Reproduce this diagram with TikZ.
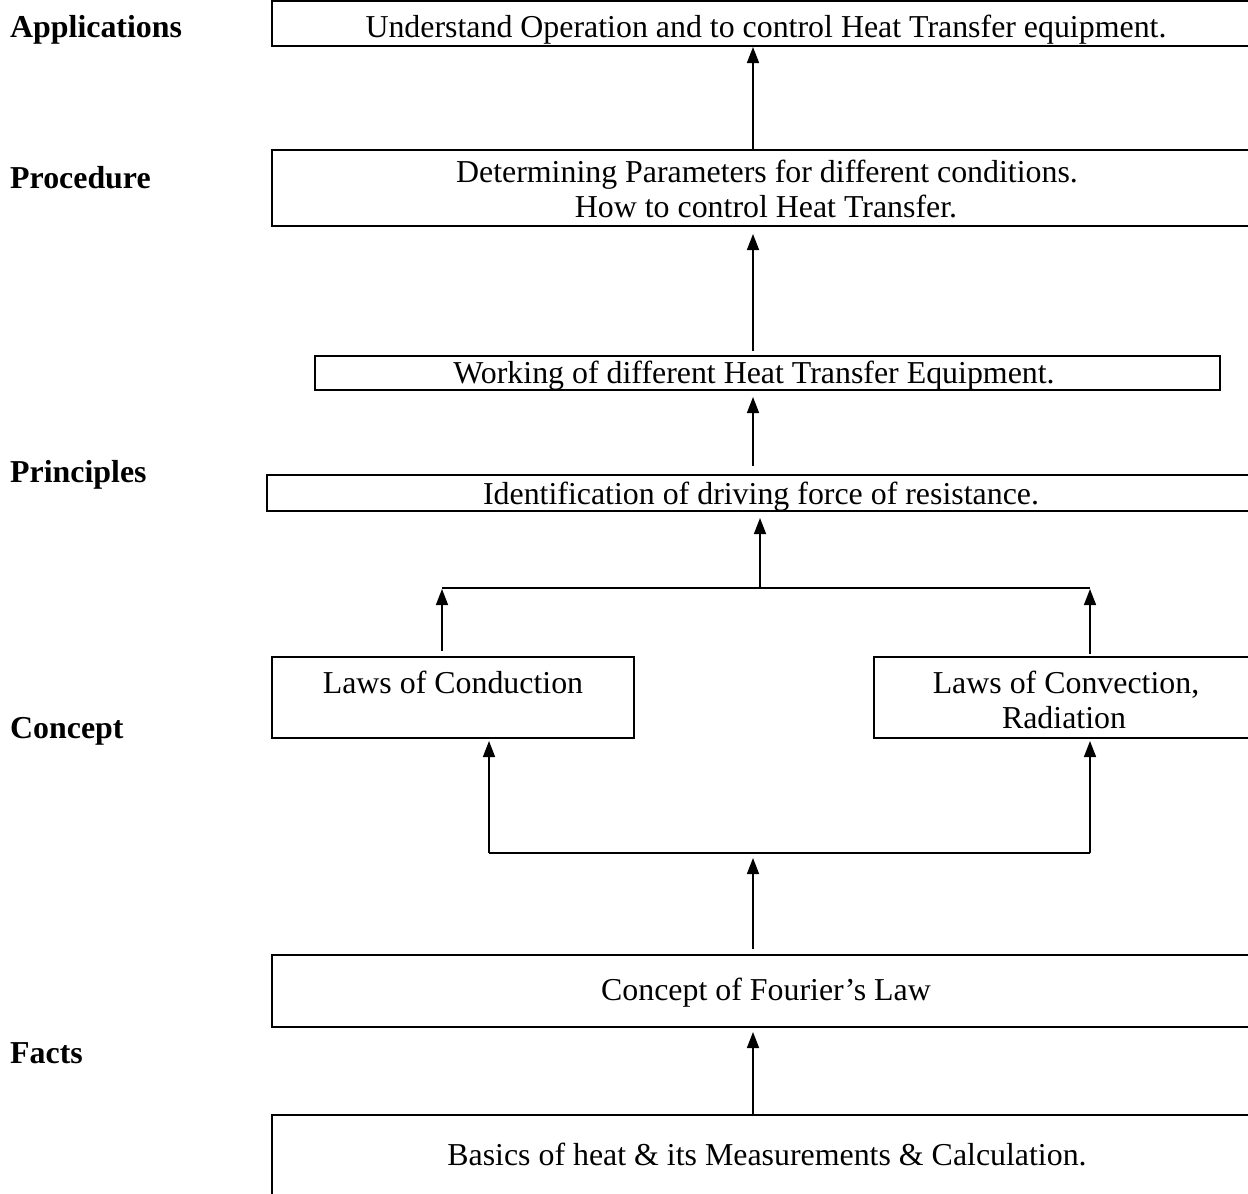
\documentclass[tikz,border=0pt]{standalone}
\usepackage{fontspec}
\setmainfont{Liberation Serif}
\usetikzlibrary{arrows.meta}
\begin{document}
\begin{tikzpicture}[x=1bp,y=-1bp,
 box/.style={draw, line width=2bp, rectangle, inner sep=0pt},
 txt/.style={font=\fontsize{32}{37}\selectfont, inner sep=0pt, anchor=base},
 lbl/.style={font=\fontsize{32}{37}\selectfont\bfseries, inner sep=0pt, anchor=base west},
 arr/.style={line width=1.6bp, -{Triangle[width=12bp,length=16bp]}},
 ln/.style={line width=2bp}]
\useasboundingbox (0,0) rectangle (1248,1194);
% level labels
\node[lbl] (lapp) at (10,37) {Applications};
\node[lbl] (lpro) at (10,188) {Procedure};
\node[lbl] (lpri) at (10,482) {Principles};
\node[lbl] (lcon) at (10,738) {Concept};
\node[lbl] (lfac) at (10,1063) {Facts};
% boxes
\node[box, minimum width=990bp, minimum height=45bp] (b1) at (767,23.5) {};
\node[box, minimum width=990bp, minimum height=76bp] (b2) at (767,188) {};
\node[box, minimum width=905bp, minimum height=34bp] (b3) at (767.5,373) {};
\node[box, minimum width=995bp, minimum height=36bp] (b4) at (764.5,493) {};
\node[box, minimum width=362bp, minimum height=81bp] (b5) at (453,697.5) {};
\node[box, minimum width=388bp, minimum height=81bp] (b6) at (1068,697.5) {};
\node[box, minimum width=990bp, minimum height=72bp] (b7) at (767,991) {};
\node[box, minimum width=990bp, minimum height=85bp] (b8) at (767,1157.5) {};
% texts
\node[txt] (t1) at (766,37) {Understand Operation and to control Heat Transfer equipment.};
\node[txt] (t2a) at (767,182) {Determining Parameters for different conditions.};
\node[txt] (t2b) at (766,217) {How to control Heat Transfer.};
\node[txt] (t3) at (754,383) {Working of different Heat Transfer Equipment.};
\node[txt] (t4) at (761,504) {Identification of driving force of resistance.};
\node[txt] (t5) at (453,693) {Laws of Conduction};
\node[txt] (t6a) at (1066,693) {Laws of Convection,};
\node[txt] (t6b) at (1064,728) {Radiation};
\node[txt] (t7) at (766,1000) {Concept of Fourier’s Law};
\node[txt] (t8) at (767,1165) {Basics of heat \& its Measurements \& Calculation.};
% connector columns
\coordinate (xa) at (753,0);
\coordinate (xb) at (760,0);
\coordinate (xl) at (442,0);
\coordinate (xr) at (1090,0);
\coordinate (xl2) at (489,0);
\coordinate (j1) at (760,588);
\coordinate (j2) at (753,853);
% arrows
\draw[arr] (xa |- b2.north) -- (xa |- b1.south);
\draw[arr, shorten <=4bp, shorten >=7bp] (xa |- b3.north) -- (xa |- b2.south);
\draw[arr, shorten <=8bp, shorten >=6bp] (xa |- b4.north) -- (xa |- b3.south);
\draw[arr, shorten >=6bp] (j1) -- (xb |- b4.south);
\draw[ln] (xl |- j1) -- (xr |- j1);
\draw[arr, shorten <=5bp, shorten >=1bp] (xl |- b5.north) -- (xl |- j1);
\draw[arr, shorten <=2bp, shorten >=1bp] (xr |- b6.north) -- (xr |- j1);
\draw[ln] (xl2 |- j2) -- (xr |- j2);
\draw[arr] (xl2 |- j2) -- ([yshift=-2bp]xl2 |- b5.south);
\draw[arr] (xr |- j2) -- ([yshift=-2bp]xr |- b6.south);
\draw[arr, shorten <=5bp, shorten >=5bp] (xa |- b7.north) -- (j2);
\draw[arr, shorten >=4bp] (xa |- b8.north) -- (xa |- b7.south);
\end{tikzpicture}
\end{document}
